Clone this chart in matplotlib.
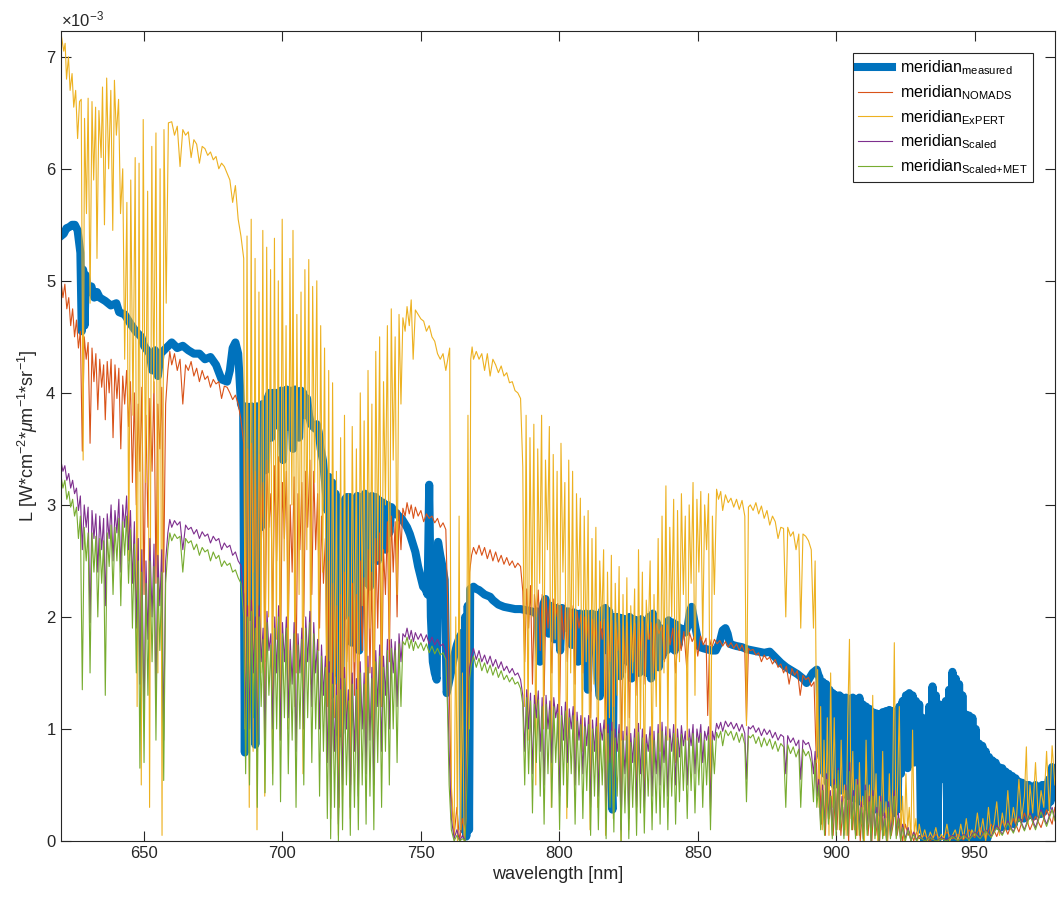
import numpy as np
import matplotlib
matplotlib.use("Agg")
import matplotlib.pyplot as plt
from matplotlib.ticker import MultipleLocator, ScalarFormatter

plt.rcParams['font.family'] = ['Liberation Sans', 'DejaVu Sans']
plt.rcParams['mathtext.fontset'] = 'custom'
plt.rcParams['mathtext.rm'] = 'Liberation Sans'
plt.rcParams['mathtext.it'] = 'Liberation Sans:italic'

# radiance values, units of 1e-3 W cm^-2 um^-1 sr^-1
# (wavelength nm, value)
measured = [
    (620, 5.40), (621, 5.42), (622, 5.47), (623, 5.48), (624, 5.50), (625, 5.50), (626, 5.45),
    (627, 5.25), (627.5, 4.55), (628, 5.10), (628.5, 4.60), (629, 5.05), (630, 4.90), (631, 4.95),
    (632, 4.85), (633, 4.90), (634, 4.85), (636, 4.82), (638, 4.78), (640, 4.80), (641, 4.72),
    (643, 4.70), (645, 4.62), (647, 4.55), (649, 4.50), (650, 4.42), (652, 4.35), (653, 4.20),
    (654, 4.38), (655, 4.15), (656, 4.35), (658, 4.40), (660, 4.45), (662, 4.40), (664, 4.42),
    (666, 4.38), (668, 4.35), (670, 4.35), (672, 4.30), (674, 4.32), (676, 4.25), (678, 4.12),
    (680, 4.10), (681, 4.20), (682, 4.40), (683, 4.45), (684, 4.35), (685, 3.90), (685.8, 3.85),
    (686.4, 0.79), (687, 3.88), (687.6, 3.85), (688.2, 2.00), (688.8, 3.88), (689.4, 3.86),
    (690.2, 0.86), (690.8, 3.88), (691.5, 3.85), (692.2, 2.80), (692.8, 3.90), (693.4, 3.85),
    (694, 3.31), (694.6, 3.95), (695.4, 4.00), (696, 3.60), (696.6, 4.00), (697.3, 3.97),
    (698, 4.00), (698.8, 3.70), (699.5, 4.02), (700.2, 3.40), (700.8, 4.00), (701.5, 4.03),
    (702.2, 3.70), (702.9, 4.02), (703.8, 3.50), (704.5, 4.03), (705.3, 4.00), (706, 3.60),
    (706.7, 4.02), (707.5, 4.00), (708.2, 3.80), (708.9, 3.95), (709.6, 3.80), (710.3, 3.72),
    (711, 3.70), (711.8, 3.68), (712.4, 3.72), (713.1, 3.65), (713.8, 3.50), (714.6, 3.40),
    (715.4, 3.20), (716.2, 2.95), (716.8, 3.25), (717.4, 1.30), (718, 3.20), (718.6, 2.00),
    (719.2, 3.10), (719.8, 1.50), (720.4, 3.00), (720.8, 0.96), (721.4, 3.00), (722, 2.00),
    (722.6, 3.05), (723.2, 3.07), (723.8, 2.40), (724.4, 3.07), (725, 1.77), (725.6, 3.05),
    (726.3, 2.20), (727, 3.08), (727.7, 1.70), (728.4, 3.07), (729.1, 2.60), (729.8, 3.10),
    (730.5, 2.30), (731.2, 3.05), (731.6, 2.27), (732.3, 3.08), (733, 2.70), (733.7, 3.07),
    (734.4, 2.50), (735.1, 3.04), (735.8, 2.80), (736.5, 3.02), (737.2, 2.60), (737.9, 3.00),
    (738.6, 2.75), (739.4, 2.98), (740.2, 2.95), (741, 2.93), (742, 2.90), (743, 2.88),
    (744, 2.84), (745, 2.80), (746, 2.74), (747, 2.66), (748, 2.58), (749, 2.45), (750, 2.35),
    (750.8, 2.27), (751.6, 2.25), (752.4, 2.20), (753, 3.18), (753.6, 2.00), (754.3, 1.60),
    (755, 1.50), (755.7, 1.44), (756.2, 2.67), (757, 2.55), (757.8, 2.45), (758.6, 2.33),
    (759.3, 1.32), (760, 1.40), (761, 1.52), (762, 1.65), (763, 1.75), (764, 1.82), (765, 1.86),
    (765.5, 0.10), (766, 2.00), (766.4, 0.04), (766.9, 2.10), (767.4, 0.10), (767.8, 2.25),
    (769, 2.27), (770, 2.25), (771, 2.24), (772, 2.22), (773, 2.20), (774, 2.19), (775, 2.18),
    (776, 2.15), (777, 2.13), (778, 2.11), (779, 2.10), (780, 2.09), (782, 2.08), (784, 2.07),
    (786, 2.07), (788, 2.06), (790, 2.05), (791, 2.04), (792, 2.05), (793, 1.60), (793.6, 2.00),
    (794.3, 2.12), (795, 2.16), (795.6, 2.10), (796.2, 1.85), (796.8, 2.10), (797.5, 2.05),
    (798.2, 1.80), (798.9, 2.08), (799.6, 2.06), (800.3, 1.70), (801, 2.08), (801.7, 2.04),
    (802.4, 1.90), (803.1, 2.05), (803.8, 2.03), (804.5, 1.75), (805.2, 2.04), (806, 2.03),
    (806.8, 1.60), (807.5, 2.03), (808.2, 2.02), (808.9, 1.60), (809.6, 2.03), (810.3, 1.35),
    (811, 2.02), (811.7, 2.03), (812.4, 1.80), (813.1, 2.02), (813.8, 1.50), (814.6, 1.29),
    (815.3, 2.05), (816, 2.07), (816.6, 2.08), (817.3, 1.70), (818, 2.05), (818.6, 0.70),
    (819.2, 0.28), (819.8, 2.00), (820.5, 1.50), (821.2, 2.00), (821.9, 1.47), (822.6, 1.99),
    (823.3, 1.65), (824, 1.98), (824.7, 1.60), (825.4, 2.00), (826.1, 1.45), (826.8, 1.98),
    (827.5, 1.70), (828.2, 1.97), (828.9, 1.50), (829.6, 1.98), (830.3, 1.75), (831, 1.96),
    (831.6, 1.50), (832.4, 2.00), (833.1, 1.45), (833.8, 2.03), (834.5, 1.60), (835.2, 1.95),
    (835.9, 1.55), (836.6, 1.90), (837.3, 1.65), (838, 1.88), (838.8, 1.70), (839.5, 1.97),
    (840.2, 1.72), (841, 1.95), (841.7, 1.70), (842.4, 1.93), (843.1, 1.75), (843.8, 1.90),
    (844.6, 1.88), (845.5, 1.86), (846.4, 1.92), (847.2, 2.05), (847.8, 2.09), (848.5, 2.00),
    (849.2, 1.90), (850, 1.80), (850.8, 1.73), (852, 1.72), (853.5, 1.71), (855, 1.70),
    (856.5, 1.70), (858, 1.78), (859, 1.88), (860, 1.90), (860.8, 1.85), (861.6, 1.76),
    (862.6, 1.75), (864, 1.74), (866, 1.73), (868, 1.71), (870, 1.70), (872, 1.69), (874, 1.68),
    (876, 1.69), (878, 1.64), (880, 1.59), (882, 1.55), (884, 1.52), (886, 1.49), (888, 1.45),
    (889.3, 1.41), (890.5, 1.46), (891.5, 1.50), (893, 1.53), (893.6, 1.48),
    (894, 1.46), (894.6, 0.75), (895.2, 1.42), (895.8, 0.60), (896.4, 1.40), (897, 0.52),
    (897.6, 1.35), (898.2, 0.70), (898.8, 1.32), (899.4, 0.50), (900, 1.30), (900.6, 0.55),
    (901.2, 1.30), (901.8, 0.45), (902.4, 1.28), (903, 0.50), (903.6, 1.28), (904.2, 0.40),
    (904.8, 1.27), (905.4, 0.45), (906, 1.28), (906.6, 0.38), (907.2, 1.26), (907.8, 0.42),
    (908.4, 1.28), (909, 0.35), (909.6, 1.22), (910.2, 0.40), (910.8, 1.20), (911.4, 0.30),
    (912, 1.18), (912.6, 0.35), (913.2, 1.15), (913.8, 0.28), (914.4, 1.14), (915, 0.30),
    (915.6, 1.13), (916.2, 0.25), (916.8, 1.15), (917.4, 0.28), (918, 1.16), (918.6, 0.24),
    (919.2, 1.17), (919.8, 0.26), (920.4, 1.16), (921, 0.25), (921.6, 1.14), (922.2, 0.28),
    (922.8, 1.20), (923.4, 0.60), (924, 1.25), (924.6, 0.70), (925.2, 1.30), (925.8, 0.65),
    (926.4, 1.32), (927, 0.75), (927.6, 1.30), (928.2, 0.70), (928.8, 1.25), (929.4, 0.80),
    (930, 1.22), (930.6, 0.10), (931.2, 1.10), (931.8, 0.00), (932.4, 0.95), (933, 0.00),
    (933.6, 1.20), (934.2, 0.02), (934.8, 1.38), (935.4, 0.00), (936, 1.30), (936.6, 0.02),
    (937.2, 1.22), (937.8, 0.55), (938.4, 1.20), (939, 0.55), (939.6, 1.25), (940.2, 0.00),
    (940.8, 1.35), (941.4, 0.02), (942, 1.51), (942.6, 0.00), (943.2, 1.45), (943.8, 0.02),
    (944.4, 1.40), (945, 0.00), (945.6, 1.30), (946.2, 0.02), (946.8, 1.13), (947.4, 0.00),
    (948, 1.12), (948.6, 0.05), (949.2, 1.10), (949.8, 0.02), (950.4, 1.00), (951, 0.05),
    (951.6, 0.87), (952.2, 0.00), (952.8, 0.85), (953.4, 0.08), (954, 0.80), (954.6, 0.02),
    (955.2, 0.75), (955.8, 0.10), (956.4, 0.72), (957, 0.13), (957.6, 0.70), (958.2, 0.15),
    (958.8, 0.66), (959.4, 0.12), (960, 0.65), (960.6, 0.15), (961.2, 0.62), (961.8, 0.13),
    (962.4, 0.60), (963, 0.18), (963.6, 0.58), (964.2, 0.15), (964.8, 0.56), (965.4, 0.20),
    (966, 0.53), (966.6, 0.22), (967.2, 0.52), (967.8, 0.20), (968.4, 0.50), (969, 0.22),
    (969.6, 0.50), (970.2, 0.24), (970.8, 0.48), (971.4, 0.22), (972, 0.50), (972.6, 0.25),
    (973.2, 0.48), (973.8, 0.24), (974.4, 0.50), (975, 0.26), (975.6, 0.50), (976.2, 0.30),
    (976.8, 0.55), (977.4, 0.35), (978, 0.66), (978.6, 0.40), (979, 0.62),
]

nomads = [
    (620, 5.00), (620.7, 4.85), (621.4, 4.97), (622.1, 4.75), (622.8, 4.85), (623.5, 4.60),
    (624.2, 4.75), (624.9, 4.50), (625.6, 4.65), (626.3, 4.40), (627, 4.55), (627.7, 3.48),
    (628.4, 4.50), (629.1, 4.30), (629.8, 4.45), (630.5, 3.55), (631.2, 4.40), (631.9, 4.10),
    (632.6, 4.35), (633.3, 3.85), (634, 4.30), (634.7, 4.05), (635.4, 4.25), (636, 3.76),
    (636.7, 4.28), (637.4, 4.00), (638.1, 4.30), (638.8, 3.60), (639.5, 4.25), (640.2, 3.95),
    (640.9, 4.22), (641.6, 3.50), (642.3, 4.15), (643, 3.90), (643.7, 4.20), (644.4, 3.70),
    (645.1, 4.10), (645.8, 3.20), (646.5, 4.00), (647.2, 3.00), (647.9, 3.90), (648.5, 3.30),
    (649.2, 4.05), (650, 2.20), (650.7, 3.80), (651.4, 2.80), (652.1, 3.95), (652.9, 3.30),
    (653.6, 4.10), (654.3, 2.30), (655, 3.90), (655.7, 3.50), (656.4, 4.05), (657.1, 2.40),
    (657.8, 3.90), (658.6, 4.20), (659.3, 4.37), (660, 4.25), (661, 4.35), (662, 4.20),
    (663, 4.30), (664, 3.90), (665, 4.25), (666, 4.20), (667, 4.28), (668, 4.15), (669, 4.22),
    (670, 4.10), (671, 4.20), (672, 4.12), (673, 4.15), (674, 4.05), (675, 4.12), (676, 4.08),
    (677, 4.10), (678, 3.95), (679, 4.06), (680, 4.05), (681, 4.00), (682, 3.94), (683, 3.98),
    (684, 3.90), (685, 3.76), (686, 3.55), (686.7, 1.50),
    (687.4, 3.50), (688.1, 2.00), (688.8, 3.55), (689.5, 2.40), (690.2, 3.30), (690.9, 1.80),
    (691.6, 3.45), (692.3, 2.60), (693, 3.20), (693.7, 1.60), (694.4, 3.40), (695.1, 2.80),
    (695.8, 3.10), (696.5, 2.00), (697.2, 3.35), (697.9, 2.50), (698.6, 3.43), (699.3, 1.70),
    (700, 3.20), (700.7, 2.70), (701.4, 3.30), (702.1, 1.90), (702.8, 3.00), (703.5, 2.40),
    (704.2, 3.25), (704.9, 1.50), (705.6, 3.10), (706.3, 2.60), (707, 3.20), (707.7, 2.00),
    (708.4, 3.30), (709.1, 2.80), (709.9, 3.40), (710.6, 2.20), (711.3, 3.30), (712, 2.60),
    (712.7, 3.10), (713.4, 1.90), (714.1, 2.90), (714.8, 2.30), (715.5, 2.70), (716.2, 1.20),
    (716.9, 2.50), (717.6, 0.60), (718.3, 2.30), (719, 1.40), (719.7, 2.10), (720.4, 0.30),
    (721.1, 2.20), (721.8, 0.90), (722.5, 2.40), (723.2, 1.60), (723.9, 2.00), (724.6, 0.50),
    (725.3, 2.30), (726, 1.30), (726.7, 2.20), (727.4, 0.80), (728.1, 2.50), (728.8, 1.70),
    (729.5, 2.35), (730.2, 1.00), (730.9, 2.60), (731.6, 1.50), (732.3, 2.40), (733, 0.90),
    (733.7, 2.70), (734.4, 1.90), (735.1, 2.75), (735.8, 1.20), (736.5, 2.60), (737.2, 2.20),
    (737.9, 2.85), (738.6, 1.60), (739.3, 2.90), (740, 2.40), (740.7, 2.85), (741.4, 2.00),
    (742.1, 2.95), (742.8, 2.60), (743.5, 2.97), (744.3, 2.90), (745, 3.02), (745.8, 2.92),
    (746.5, 3.00), (747.3, 2.88), (748, 2.98), (749, 2.90), (750, 2.95), (751, 2.85),
    (752, 2.92), (753, 2.88), (754, 2.90), (755, 2.84), (756, 2.88), (757, 2.80), (758, 2.84),
    (759, 2.78), (759.6, 2.20), (760.2, 1.40), (761, 0.40), (762, 0.05), (763, 0.30),
    (764, 0.00), (765, 0.20), (766, 0.05), (767, 1.60), (767.6, 2.40), (768.3, 2.55),
    (769, 2.62), (770, 2.56), (771, 2.64), (772, 2.55), (773, 2.62), (774, 2.52), (775, 2.60),
    (776, 2.50), (777, 2.58), (778, 2.49), (779, 2.55), (780, 2.47), (781, 2.53), (782, 2.46),
    (783, 2.50), (784, 2.44), (785, 2.48), (786, 2.45), (786.8, 2.23), (787.5, 1.60),
    (788.2, 2.25), (788.9, 1.90), (789.6, 2.28), (790.3, 1.40), (791, 2.20), (791.7, 2.00),
    (792.4, 2.24), (793.1, 1.70), (793.8, 2.20), (794.5, 1.30), (795.2, 2.18), (795.9, 1.90),
    (796.6, 2.15), (797.3, 1.50), (798, 2.16), (798.7, 2.00), (799.4, 2.12), (800.1, 1.20),
    (800.8, 2.10), (801.5, 1.80), (802.2, 2.13), (802.9, 1.60), (803.6, 2.08), (804.3, 1.90),
    (805, 2.10), (805.7, 1.40), (806.4, 2.05), (807.1, 1.90), (807.8, 2.02), (808.5, 1.50),
    (809.2, 2.00), (809.9, 1.80), (810.6, 2.02), (811.3, 1.10), (812, 1.98), (812.7, 1.70),
    (813.4, 2.00), (814.1, 1.30), (814.8, 1.96), (815.5, 1.80), (816.2, 1.98), (816.9, 1.00),
    (817.6, 1.95), (818.3, 1.60), (819, 1.97), (819.7, 1.20), (820.4, 1.95), (821.1, 1.70),
    (821.8, 1.94), (822.5, 0.90), (823.2, 1.92), (823.9, 1.50), (824.6, 1.95), (825.3, 1.10),
    (826, 1.92), (826.7, 1.60), (827.4, 1.94), (828.1, 1.30), (828.8, 1.95), (829.5, 1.70),
    (830.2, 1.96), (831, 1.40), (831.7, 1.93), (832.5, 1.80), (833.2, 1.95), (834, 1.50),
    (835, 1.94), (836, 1.85), (837, 1.92), (838, 1.60), (839, 1.93), (840, 1.75), (841, 1.90),
    (842, 1.50), (843, 1.88), (844, 1.70), (845, 1.87), (846, 1.55), (847, 1.86), (848, 1.78),
    (849, 1.84), (850, 1.65), (851, 1.83), (852, 1.75), (853, 1.81), (853.6, 1.12), (854.3, 1.80),
    (855, 1.72), (856, 1.80), (857, 1.76), (858, 1.79), (859, 1.74), (860, 1.78), (861, 1.73),
    (862, 1.77), (863, 1.72), (864, 1.76), (865, 1.70), (866, 1.75), (867, 1.68), (867.6, 1.07),
    (868.3, 1.72), (869, 1.70), (870, 1.71), (871, 1.66), (872, 1.68), (873, 1.60), (874, 1.66),
    (875, 1.62), (876, 1.64), (877, 1.58), (878, 1.62), (879, 1.55), (880, 1.58), (881, 1.50),
    (882, 1.56), (883, 1.40), (884, 1.54), (885, 1.48), (886, 1.52), (887, 1.30), (888, 1.48),
    (889, 1.44), (890, 1.46), (891, 1.38), (892, 1.42), (892.6, 0.90), (893.3, 0.40),
    (894, 0.60), (894.7, 0.15), (895.4, 0.45), (896.1, 0.05), (896.8, 0.55), (897.5, 0.20),
    (898.2, 0.40), (898.9, 0.05), (899.6, 0.35), (900.3, 0.10), (901, 0.50), (901.7, 0.05),
    (902.4, 0.30), (903.1, 0.10), (903.8, 0.45), (904.5, 0.00), (905.2, 0.60), (905.9, 0.10),
    (906.6, 0.30), (907.3, 0.05), (908, 0.40), (908.7, 0.00), (909.4, 0.25), (910.1, 0.10),
    (910.8, 0.45), (911.5, 0.05), (912.2, 0.30), (912.9, 0.00), (913.6, 0.35), (914.3, 0.05),
    (915, 0.20), (915.7, 0.00), (916.4, 0.30), (917.1, 0.05), (917.8, 0.15), (918.5, 0.00),
    (919.2, 0.25), (919.9, 0.05), (920.6, 0.15), (921.3, 0.40), (922, 0.05), (923, 0.20),
    (924, 0.00), (925, 0.15), (926, 0.05), (927, 0.10), (928, 0.00), (929, 0.08), (930, 0.02),
    (932, 0.05), (934, 0.00), (936, 0.06), (938, 0.01), (940, 0.08), (942, 0.02), (944, 0.06),
    (946, 0.01), (948, 0.10), (950, 0.03), (952, 0.12), (954, 0.02), (956, 0.15), (958, 0.04),
    (960, 0.18), (962, 0.06), (964, 0.20), (966, 0.08), (968, 0.25), (970, 0.10), (972, 0.22),
    (974, 0.12), (976, 0.28), (978, 0.15), (979, 0.30),
]

expert = [
    (620, 7.21), (621, 7.05), (621.5, 7.12), (622, 6.80), (622.7, 7.00), (623.3, 6.70),
    (624, 6.85), (624.6, 6.55), (625.3, 6.70), (626, 6.27), (626.7, 6.60), (627.3, 6.62),
    (628, 3.40), (628.5, 6.45), (629.2, 5.60), (629.8, 6.63), (630.5, 4.80), (631.2, 6.60),
    (631.8, 5.90), (632.5, 6.55), (633, 5.20), (633.7, 6.52), (634.5, 6.10), (635, 6.73),
    (635.7, 5.50), (636.5, 6.81), (637.2, 6.00), (638, 6.70), (638.7, 5.45), (639.3, 6.79),
    (640, 6.30), (640.8, 6.62), (641.5, 5.60), (642.3, 6.00), (643, 4.30), (643.8, 5.70),
    (644.5, 2.50), (645.2, 5.90), (646, 3.80), (646.8, 6.10), (647.5, 1.20), (648.2, 6.05),
    (649, 0.50), (649.7, 6.44), (650.5, 3.20), (651.3, 5.80), (652, 0.30), (652.8, 6.20),
    (653.5, 4.00), (654.3, 6.32), (655, 1.50), (655.8, 6.00), (656.5, 0.05), (657.2, 6.35),
    (658, 4.80), (658.8, 6.41), (660, 6.42), (661, 6.30), (662, 6.38), (663, 6.02), (664, 6.35),
    (665, 6.30), (666, 6.33), (667, 6.10), (668, 6.26), (669, 6.22), (670, 6.05), (671, 6.20),
    (672, 6.18), (673, 6.12), (674, 6.15), (675, 6.08), (676, 6.11), (677, 6.00), (678, 6.05),
    (679, 6.02), (680, 5.96), (681, 5.90), (682, 5.70), (683, 5.85), (684, 5.55), (685, 5.40),
    (686, 5.20), (686.5, 1.00), (687.2, 5.40), (688, 0.30), (688.7, 5.55), (689.4, 0.80),
    (690.1, 5.20), (690.8, 0.10), (691.5, 4.90), (692.2, 1.50), (692.9, 5.45), (693.6, 0.40),
    (694.3, 5.30), (695, 2.00), (695.7, 5.10), (696.4, 0.60), (697.1, 5.38), (697.8, 1.80),
    (698.5, 5.00), (699.2, 0.90), (699.9, 5.55), (700.6, 2.50), (701.3, 4.60), (702, 1.00),
    (702.7, 5.20), (703.4, 3.00), (703.8, 5.45), (704.5, 1.20), (705.2, 4.70), (706, 2.20),
    (706.7, 4.90), (707.4, 0.60), (708.1, 5.10), (708.8, 2.60), (709.5, 5.19), (710.2, 1.40),
    (710.9, 4.95), (711.6, 3.20), (712.4, 5.00), (713.1, 1.70), (713.8, 4.60), (714.5, 2.40),
    (715.2, 4.40), (716, 0.90), (716.7, 4.20), (717.4, 0.20), (718.1, 4.09), (718.8, 1.10),
    (719.5, 3.30), (720.2, 0.05), (721, 3.60), (721.7, 0.40), (722.4, 3.80), (723.1, 1.00),
    (723.8, 3.10), (724.5, 0.20), (725.2, 3.70), (726, 1.60), (726.7, 3.50), (727.4, 0.50),
    (728.1, 4.00), (728.8, 2.10), (729.5, 3.75), (730.2, 0.80), (730.9, 4.20), (731.6, 1.90),
    (732.3, 3.90), (733, 0.70), (733.7, 4.37), (734.4, 2.50), (735.1, 4.50), (735.8, 1.20),
    (736.5, 4.10), (737.2, 3.00), (737.9, 4.60), (738.6, 1.80), (739.3, 4.75), (740, 3.40),
    (740.7, 4.50), (741.4, 2.20), (742.1, 4.70), (742.8, 3.90), (743.5, 4.67), (744.3, 4.55),
    (745, 4.77), (745.8, 4.60), (746.5, 4.83), (747.2, 4.30), (748, 4.74), (749, 4.70),
    (750, 4.66), (751, 4.64), (752, 4.55), (753, 4.60), (754, 4.50), (755, 4.46), (756, 4.35),
    (757, 4.30), (758, 4.35), (759, 4.20), (760.4, 4.40), (761, 0.50), (762, 0.05), (762.6, 2.00),
    (763.2, 0.00), (763.8, 2.90), (764.4, 0.10), (765, 1.50), (765.6, 0.00), (766.3, 0.20),
    (767, 3.80), (767.5, 1.00), (768, 4.30), (768.5, 4.41), (769, 4.30), (770, 4.37),
    (771, 4.30), (772, 4.35), (773, 4.20), (774, 4.35), (775, 4.15), (776, 4.30), (777, 4.25),
    (778, 4.18), (779, 4.24), (780, 4.15), (781, 4.18), (782, 4.09), (783, 4.10), (784, 4.02),
    (785, 4.00), (786, 3.95), (786.8, 3.34), (787.4, 1.20), (788, 3.80), (788.7, 0.90),
    (789.4, 3.60), (790.1, 2.00), (790.8, 3.72), (791.5, 0.50), (792.2, 3.50), (792.9, 2.30),
    (793.6, 3.80), (794.3, 1.00), (795, 3.40), (795.7, 2.60), (796.4, 3.70), (797.1, 0.30),
    (797.8, 3.45), (798.5, 1.80), (799.2, 3.30), (799.9, 0.60), (800.6, 3.55), (801.3, 2.40),
    (802, 3.20), (802.7, 0.20), (803.4, 3.40), (804.1, 1.50), (804.8, 3.30), (805.5, 0.40),
    (806.2, 3.10), (806.9, 2.10), (807.6, 3.06), (808.3, 0.80), (809, 2.90), (809.7, 1.60),
    (810.4, 2.95), (811.1, 0.10), (811.8, 2.70), (812.5, 1.40), (813.2, 2.80), (813.9, 0.30),
    (814.6, 2.50), (815.3, 1.90), (816, 2.60), (816.7, 0.05), (817.4, 2.40), (818.1, 1.10),
    (818.8, 2.55), (819.5, 0.20), (820.2, 2.30), (820.9, 1.30), (821.6, 2.45), (822.3, 0.00),
    (823, 2.20), (823.7, 0.90), (824.4, 2.35), (825.1, 0.10), (825.8, 2.10), (826.5, 1.50),
    (827.2, 2.25), (827.9, 0.30), (828.6, 2.60), (829.3, 1.00), (830, 2.40), (830.7, 0.40),
    (831.4, 2.15), (832.1, 1.80), (832.8, 2.50), (833.5, 0.60), (834.2, 2.20), (835, 1.20),
    (835.7, 2.70), (836.4, 0.80), (837.1, 2.90), (837.8, 1.50), (838.5, 3.17), (839.2, 0.90),
    (839.9, 2.80), (840.6, 2.00), (841.3, 3.05), (842, 0.70), (842.7, 2.95), (843.4, 1.60),
    (844.1, 3.10), (844.8, 2.20), (845.5, 2.90), (846.2, 0.90), (846.9, 3.00), (847.6, 2.30),
    (848.3, 3.20), (849, 1.30), (849.7, 3.05), (850.4, 2.40), (851.1, 3.12), (851.8, 1.80),
    (852.5, 3.00), (853.2, 2.60), (853.9, 3.10), (854.6, 0.23), (855.3, 2.90), (856, 2.20),
    (856.8, 3.14), (857.5, 3.05), (858.3, 3.12), (859, 2.95), (860, 3.09), (861, 3.02),
    (862, 3.06), (863, 2.98), (864, 3.05), (865, 2.96), (866, 3.04), (867, 2.90), (867.6, 1.03),
    (868.3, 2.98), (869, 3.00), (870, 2.95), (871, 3.02), (872, 2.92), (873, 2.99), (874, 2.88),
    (875, 2.95), (876, 2.82), (877, 2.90), (878, 2.85), (879, 2.70), (880, 2.80), (881, 2.79),
    (881.8, 2.00), (882.5, 2.80), (883.5, 2.72), (884.5, 2.76), (885.5, 2.60), (886.5, 2.74),
    (887.2, 1.90), (888, 2.74), (889, 2.72), (890, 2.68), (891, 2.60), (891.8, 1.90),
    (892.4, 2.50), (893, 0.70), (893.3, 1.53), (893.8, 0.30), (894.4, 1.20), (895, 0.10),
    (895.6, 0.90), (896.2, 0.20), (896.8, 1.10), (897.4, 0.05), (898, 1.50), (898.6, 0.30),
    (899.3, 1.10), (900, 0.20), (900.6, 0.60), (901.2, 0.10), (901.8, 0.90), (902.4, 0.30),
    (903, 0.50), (903.6, 0.05), (904.2, 1.10), (904.8, 1.80), (905.4, 0.20), (906, 0.80),
    (906.6, 0.10), (907.2, 0.55), (907.8, 0.05), (908.4, 0.70), (909, 0.15), (909.6, 0.40),
    (910.2, 0.00), (910.8, 0.90), (911.4, 0.20), (912, 0.50), (912.6, 0.05), (913.2, 1.30),
    (913.8, 0.20), (914.4, 0.60), (915, 0.00), (915.6, 0.40), (916.2, 0.10), (916.8, 0.80),
    (917.4, 0.05), (918, 0.35), (918.6, 0.00), (919.2, 0.60), (919.8, 0.10), (920.4, 0.45),
    (921, 1.77), (921.6, 0.10), (922.2, 0.50), (922.8, 1.20), (923.4, 0.05), (924, 0.40),
    (924.6, 0.00), (925.2, 0.60), (925.8, 0.10), (926.4, 0.30), (927, 0.00), (927.6, 0.99),
    (928.2, 0.05), (928.8, 0.20), (929.4, 0.00), (930, 0.15), (931, 0.02), (932, 0.10),
    (933, 0.00), (934, 0.08), (935, 0.02), (936, 0.12), (937, 0.00), (938, 0.06), (939, 0.02),
    (940, 0.15), (941, 0.00), (942, 0.05), (943, 0.10), (944, 0.00), (945, 0.15), (946, 0.02),
    (947, 0.20), (948, 0.00), (949, 0.10), (950, 0.05), (951, 0.25), (952, 0.05), (953, 0.20),
    (954, 0.00), (955, 0.30), (956, 0.05), (957, 0.15), (958, 0.35), (959, 0.05), (960, 0.25),
    (961, 0.10), (962, 0.45), (963, 0.10), (964, 0.30), (965, 0.15), (966, 0.55), (967, 0.20),
    (968, 0.40), (968.7, 0.84), (969.3, 0.15), (970, 0.50), (971, 0.25), (972, 0.70),
    (973, 0.20), (974, 0.45), (975, 0.30), (976, 0.80), (977, 0.25), (978, 0.85), (979, 0.50),
]

scaled = [
    (620, 3.39), (620.7, 3.30), (621.4, 3.35), (622.1, 3.22), (622.8, 3.28), (623.5, 3.15),
    (624.2, 3.22), (624.9, 3.10), (625.6, 3.15), (626.3, 2.95), (627, 3.08), (627.7, 2.60),
    (628.4, 3.00), (629.1, 2.80), (629.8, 2.98), (630.5, 1.95), (631.2, 2.95), (631.9, 2.70),
    (632.6, 2.92), (633.3, 2.40), (634, 2.90), (634.7, 2.60), (635.4, 2.88), (636, 2.10),
    (636.7, 2.92), (637.4, 2.70), (638.1, 3.00), (638.8, 2.50), (639.5, 2.95), (640.2, 2.75),
    (640.9, 3.05), (641.6, 2.40), (642.3, 3.00), (643, 2.80), (643.7, 3.08), (644.4, 2.60),
    (645.1, 2.95), (645.8, 2.30), (646.5, 2.85), (647.2, 1.90), (647.9, 2.70), (648.5, 1.40),
    (649.2, 2.60), (650, 1.10), (650.7, 2.50), (651.4, 1.80), (652.1, 2.70), (652.9, 2.00),
    (653.6, 2.65), (654.3, 1.30), (655, 2.55), (655.7, 2.10), (656.4, 2.60), (657.1, 0.90),
    (657.8, 2.50), (658.6, 2.75), (659.3, 2.87), (660, 2.80), (661, 2.86), (662, 2.82),
    (663, 2.85), (664, 2.60), (665, 2.82), (666, 2.78), (667, 2.80), (668, 2.74), (669, 2.78),
    (670, 2.70), (671, 2.76), (672, 2.72), (673, 2.74), (674, 2.66), (675, 2.72), (676, 2.68),
    (677, 2.70), (678, 2.60), (679, 2.66), (680, 2.62), (681, 2.64), (682, 2.55), (683, 2.58),
    (684, 2.50), (685, 2.46), (686, 2.20), (686.7, 1.00),
    (687.4, 2.10), (688.1, 1.00), (688.8, 2.15), (689.5, 1.50), (690.2, 2.00), (690.9, 0.80),
    (691.6, 2.10), (692.3, 1.60), (693, 1.90), (693.7, 0.90), (694.4, 2.05), (695.1, 1.70),
    (695.8, 1.85), (696.5, 1.00), (697.2, 2.00), (697.9, 1.50), (698.6, 2.10), (699.3, 0.90),
    (700, 1.95), (700.7, 1.60), (701.4, 2.00), (702.1, 1.10), (702.8, 1.80), (703.5, 1.40),
    (704.2, 1.95), (704.9, 0.80), (705.6, 1.85), (706.3, 1.50), (707, 1.90), (707.7, 1.00),
    (708.4, 2.00), (709.1, 1.60), (709.9, 2.05), (710.6, 1.20), (711.3, 1.95), (712, 1.50),
    (712.7, 1.80), (713.4, 1.00), (714.1, 1.75), (714.8, 1.30), (715.5, 1.65), (716.2, 0.70),
    (716.9, 1.60), (717.4, 0.30), (718.1, 1.50), (718.8, 0.80), (719.5, 1.40), (720.2, 0.15),
    (721, 1.45), (721.7, 0.50), (722.4, 1.55), (723.1, 1.00), (723.8, 1.35), (724.5, 0.30),
    (725.2, 1.50), (726, 0.80), (726.7, 1.45), (727.4, 0.40), (728.1, 1.60), (728.8, 1.00),
    (729.5, 1.50), (730.2, 0.60), (730.9, 1.65), (731.6, 0.90), (732.3, 1.55), (733, 0.50),
    (733.7, 1.70), (734.4, 1.20), (735.1, 1.75), (735.8, 0.80), (736.5, 1.65), (737.2, 1.30),
    (737.9, 1.80), (738.6, 1.00), (739.3, 1.80), (740, 1.50), (740.7, 1.78), (741.4, 1.20),
    (742.1, 1.85), (742.8, 1.60), (743.5, 1.85), (744.3, 1.82), (745, 1.90), (745.8, 1.80),
    (746.5, 1.88), (747.3, 1.78), (748, 1.86), (749, 1.80), (750, 1.85), (751, 1.78),
    (752, 1.84), (753, 1.76), (754, 1.82), (755, 1.75), (756, 1.80), (757, 1.74), (758, 1.76),
    (759, 1.70), (759.6, 1.40), (760.2, 0.80), (761, 0.20), (762, 0.02), (763, 0.10),
    (764, 0.00), (765, 0.05), (766, 0.00), (767, 1.00), (767.6, 1.55), (768.3, 1.65),
    (769, 1.72), (770, 1.62), (771, 1.70), (772, 1.60), (773, 1.66), (774, 1.58), (775, 1.65),
    (776, 1.56), (777, 1.62), (778, 1.54), (779, 1.60), (780, 1.52), (781, 1.56), (782, 1.50),
    (783, 1.54), (784, 1.48), (785, 1.50), (786, 1.44), (786.8, 1.30), (787.5, 0.80),
    (788.2, 1.35), (788.9, 1.00), (789.6, 1.32), (790.3, 0.60), (791, 1.30), (791.7, 1.10),
    (792.4, 1.34), (793.1, 0.80), (793.8, 1.28), (794.5, 0.50), (795.2, 1.30), (795.9, 1.00),
    (796.6, 1.25), (797.3, 0.70), (798, 1.28), (798.7, 1.10), (799.4, 1.22), (800.1, 0.40),
    (800.8, 1.20), (801.5, 0.90), (802.2, 1.24), (802.9, 0.70), (803.6, 1.18), (804.3, 1.00),
    (805, 1.20), (805.7, 0.50), (806.4, 1.15), (807.1, 0.90), (807.8, 1.12), (808.5, 0.60),
    (809.2, 1.10), (809.9, 0.85), (810.6, 1.12), (811.3, 0.30), (812, 1.08), (812.7, 0.80),
    (813.4, 1.10), (814.1, 0.40), (814.8, 1.05), (815.5, 0.90), (816.2, 1.08), (816.9, 0.20),
    (817.6, 1.04), (818.3, 0.70), (819, 1.06), (819.7, 0.35), (820.2, 1.00), (820.9, 0.80),
    (821.6, 1.04), (822.3, 0.10), (823, 0.98), (823.7, 0.60), (824.4, 1.02), (825.1, 0.20),
    (825.8, 0.96), (826.5, 0.70), (827.2, 1.00), (827.9, 0.30), (828.6, 1.05), (829.3, 0.60),
    (830, 1.00), (830.7, 0.30), (831.4, 0.95), (832.1, 0.80), (832.8, 1.02), (833.5, 0.40),
    (834.2, 0.98), (835, 0.60), (835.7, 1.04), (836.4, 0.50), (837.1, 1.06), (837.8, 0.70),
    (838.5, 1.02), (839.2, 0.40), (839.9, 1.00), (840.6, 0.80), (841.3, 1.04), (842, 0.50),
    (842.7, 1.00), (843.4, 0.75), (844.1, 1.03), (844.8, 0.85), (845.5, 0.98), (846.2, 0.50),
    (846.9, 1.00), (847.6, 0.85), (848.3, 1.04), (849, 0.60), (849.7, 1.00), (850.4, 0.88),
    (851.1, 1.04), (851.8, 0.70), (852.5, 0.98), (853.2, 0.90), (853.9, 1.02), (854.6, 0.28),
    (855.3, 0.98), (856, 0.90), (856.8, 1.05), (857.5, 1.00), (858.3, 1.06), (859, 0.98),
    (860, 1.07), (861, 1.02), (862, 1.06), (863, 1.00), (864, 1.05), (865, 0.98), (866, 1.04),
    (867, 0.96), (867.6, 0.55), (868.3, 1.02), (869, 1.00), (870, 1.03), (871, 0.97),
    (872, 1.01), (873, 0.94), (874, 1.00), (875, 0.95), (876, 0.99), (877, 0.92), (878, 0.97),
    (879, 0.90), (880, 0.95), (881, 0.93), (881.8, 0.60), (882.5, 0.94), (883.5, 0.88),
    (884.5, 0.92), (885.5, 0.85), (886.5, 0.90), (887.2, 0.55), (888, 0.90), (889, 0.86),
    (890, 0.88), (891, 0.80), (891.8, 0.60), (892.4, 0.80), (893, 0.40),
    (893.7, 0.55), (894.4, 0.15), (895.1, 0.50), (895.8, 0.10), (896.5, 0.60), (897.2, 0.20),
    (897.9, 0.45), (898.6, 0.05), (899.3, 0.55), (900, 0.10), (900.7, 0.65), (901.4, 0.15),
    (902.1, 0.40), (902.8, 0.05), (903.5, 0.50), (904.2, 0.10), (904.9, 0.70), (905.6, 0.15),
    (906.3, 0.45), (907, 0.05), (907.7, 0.55), (908.4, 0.10), (909.1, 0.35), (909.8, 0.02),
    (910.5, 0.50), (911.2, 0.10), (911.9, 0.40), (912.6, 0.00), (913.3, 0.45), (914, 0.05),
    (914.7, 0.30), (915.4, 0.00), (916.1, 0.40), (916.8, 0.05), (917.5, 0.25), (918.2, 0.00),
    (918.9, 0.35), (919.6, 0.05), (920.3, 0.20), (921, 0.45), (921.7, 0.05), (922.5, 0.25),
    (923.3, 0.00), (924, 0.15), (925, 0.02), (926, 0.12), (927, 0.00), (928, 0.08), (929, 0.01),
    (930, 0.05), (932, 0.00), (934, 0.04), (936, 0.00), (938, 0.03), (940, 0.01), (942, 0.05),
    (944, 0.00), (946, 0.06), (948, 0.02), (950, 0.08), (952, 0.03), (954, 0.10), (956, 0.04),
    (958, 0.14), (960, 0.06), (962, 0.18), (964, 0.08), (966, 0.22), (968, 0.10), (970, 0.25),
    (972, 0.12), (974, 0.28), (976, 0.15), (978, 0.30), (979, 0.20),
]

scaled_met = [
    (620, 3.26), (620.7, 3.15), (621.4, 3.22), (622.1, 3.05), (622.8, 3.12), (623.5, 2.98),
    (624.2, 3.05), (624.9, 2.90), (625.6, 2.98), (626.3, 2.70), (627, 2.90), (627.7, 1.35),
    (628.4, 2.80), (629.1, 2.50), (629.8, 2.75), (630.5, 1.50), (631.2, 2.75), (631.9, 2.40),
    (632.6, 2.72), (633.3, 2.00), (634, 2.70), (634.7, 2.30), (635.4, 2.68), (636, 1.30),
    (636.7, 2.75), (637.4, 2.45), (638.1, 2.82), (638.8, 2.20), (639.5, 2.80), (640.2, 2.50),
    (640.9, 2.88), (641.6, 2.10), (642.3, 2.85), (643, 2.55), (643.7, 2.90), (644.4, 2.30),
    (645.1, 2.78), (645.8, 1.90), (646.5, 2.65), (647.2, 1.50), (647.9, 2.50), (648.5, 0.65),
    (649.2, 2.40), (650, 0.70), (650.7, 2.30), (651.4, 1.30), (652.1, 2.50), (652.9, 1.60),
    (653.6, 2.45), (654.3, 0.90), (655, 2.35), (655.7, 1.70), (656.4, 2.40), (657.1, 0.54),
    (657.8, 2.30), (658.6, 2.60), (659.3, 2.75), (660, 2.68), (661, 2.74), (662, 2.70),
    (663, 2.72), (664, 2.40), (665, 2.70), (666, 2.66), (667, 2.68), (668, 2.60), (669, 2.65),
    (670, 2.55), (671, 2.62), (672, 2.58), (673, 2.60), (674, 2.50), (675, 2.58), (676, 2.52),
    (677, 2.55), (678, 2.45), (679, 2.50), (680, 2.46), (681, 2.48), (682, 2.40), (683, 2.42),
    (684, 2.35), (685, 2.30), (686, 2.00), (686.7, 0.60),
    (687.4, 2.00), (688.1, 0.50), (688.8, 2.05), (689.5, 1.10), (690.2, 1.90), (690.9, 0.30),
    (691.6, 2.00), (692.3, 1.20), (693, 1.80), (693.7, 0.43), (694.4, 1.95), (695.1, 1.30),
    (695.8, 1.75), (696.5, 0.50), (697.2, 1.90), (697.9, 1.00), (698.6, 2.00), (699.3, 0.35),
    (700, 1.85), (700.7, 1.10), (701.4, 1.90), (702.1, 0.60), (702.8, 1.70), (703.5, 0.90),
    (704.2, 1.85), (704.9, 0.30), (705.6, 1.75), (706.3, 1.00), (707, 1.80), (707.7, 0.50),
    (708.4, 1.90), (709.1, 1.10), (709.9, 1.95), (710.6, 0.70), (711.3, 1.85), (712, 1.00),
    (712.7, 1.70), (713.4, 0.40), (714.1, 1.65), (714.8, 0.80), (715.5, 1.55), (716.2, 0.20),
    (716.9, 1.50), (717.4, 0.02), (718.1, 1.40), (718.8, 0.30), (719.5, 1.30), (720.2, 0.00),
    (721, 1.35), (721.7, 0.10), (722.4, 1.45), (723.1, 0.50), (723.8, 1.25), (724.5, 0.05),
    (725.2, 1.40), (726, 0.30), (726.7, 1.35), (727.4, 0.10), (728.1, 1.50), (728.8, 0.50),
    (729.5, 1.40), (730.2, 0.15), (730.9, 1.55), (731.6, 0.40), (732.3, 1.45), (733, 0.10),
    (733.7, 1.60), (734.4, 0.70), (735.1, 1.65), (735.8, 0.30), (736.5, 1.55), (737.2, 0.80),
    (737.9, 1.70), (738.6, 0.50), (739.3, 1.72), (740, 1.00), (740.7, 1.70), (741.4, 0.70),
    (742.1, 1.76), (742.8, 1.20), (743.5, 1.78), (744.3, 1.75), (745, 1.82), (745.8, 1.72),
    (746.5, 1.80), (747.3, 1.70), (748, 1.78), (749, 1.72), (750, 1.77), (751, 1.70),
    (752, 1.76), (753, 1.68), (754, 1.74), (755, 1.67), (756, 1.72), (757, 1.66), (758, 1.68),
    (759, 1.62), (759.6, 1.20), (760.2, 0.50), (761, 0.10), (762, 0.00), (763, 0.05),
    (764, 0.00), (765, 0.02), (766, 0.00), (767, 0.80), (767.6, 1.45), (768.3, 1.58),
    (769, 1.65), (770, 1.55), (771, 1.63), (772, 1.52), (773, 1.59), (774, 1.50), (775, 1.57),
    (776, 1.48), (777, 1.55), (778, 1.46), (779, 1.52), (780, 1.44), (781, 1.48), (782, 1.42),
    (783, 1.46), (784, 1.40), (785, 1.42), (786, 1.36), (786.8, 1.22), (787.5, 0.50),
    (788.2, 1.28), (788.9, 0.60), (789.6, 1.25), (790.3, 0.25), (791, 1.22), (791.7, 0.70),
    (792.4, 1.26), (793.1, 0.40), (793.8, 1.20), (794.5, 0.15), (795.2, 1.22), (795.9, 0.60),
    (796.6, 1.17), (797.3, 0.30), (798, 1.20), (798.7, 0.70), (799.4, 1.14), (800.1, 0.10),
    (800.8, 1.12), (801.5, 0.50), (802.2, 1.16), (802.9, 0.30), (803.6, 1.10), (804.3, 0.60),
    (805, 1.12), (805.7, 0.15), (806.4, 1.07), (807.1, 0.50), (807.8, 1.04), (808.5, 0.20),
    (809.2, 1.02), (809.9, 0.45), (810.6, 1.04), (811.3, 0.05), (812, 1.00), (812.7, 0.40),
    (813.4, 1.02), (814.1, 0.10), (814.8, 0.97), (815.5, 0.50), (816.2, 1.00), (816.9, 0.02),
    (817.6, 0.96), (818.3, 0.30), (819, 0.98), (819.7, 0.08), (820.2, 0.92), (820.9, 0.40),
    (821.6, 0.96), (822.3, 0.00), (823, 0.90), (823.7, 0.25), (824.4, 0.94), (825.1, 0.02),
    (825.8, 0.88), (826.5, 0.30), (827.2, 0.92), (827.9, 0.05), (828.6, 0.97), (829.3, 0.25),
    (830, 0.92), (830.7, 0.07), (831.4, 0.87), (832.1, 0.40), (832.8, 0.94), (833.5, 0.10),
    (834.2, 0.90), (835, 0.25), (835.7, 0.96), (836.4, 0.15), (837.1, 0.98), (837.8, 0.30),
    (838.5, 0.94), (839.2, 0.10), (839.9, 0.92), (840.6, 0.40), (841.3, 0.96), (842, 0.15),
    (842.7, 0.92), (843.4, 0.35), (844.1, 0.95), (844.8, 0.45), (845.5, 0.90), (846.2, 0.20),
    (846.9, 0.92), (847.6, 0.45), (848.3, 0.96), (849, 0.25), (849.7, 0.92), (850.4, 0.50),
    (851.1, 0.96), (851.8, 0.30), (852.5, 0.90), (853.2, 0.50), (853.9, 0.94), (854.6, 0.10),
    (855.3, 0.90), (856, 0.60), (856.8, 0.97), (857.5, 0.92), (858.3, 0.98), (859, 0.85),
    (860, 0.99), (861, 0.94), (862, 0.98), (863, 0.90), (864, 0.97), (865, 0.88), (866, 0.96),
    (867, 0.86), (867.6, 0.35), (868.3, 0.94), (869, 0.92), (870, 0.95), (871, 0.87),
    (872, 0.93), (873, 0.84), (874, 0.92), (875, 0.85), (876, 0.91), (877, 0.82), (878, 0.89),
    (879, 0.80), (880, 0.87), (881, 0.84), (881.8, 0.30), (882.5, 0.86), (883.5, 0.78),
    (884.5, 0.84), (885.5, 0.75), (886.5, 0.82), (887.2, 0.30), (888, 0.82), (889, 0.76),
    (890, 0.80), (891, 0.70), (891.8, 0.35), (892.4, 0.72), (893, 0.30),
    (893.7, 0.50), (894.4, 0.10), (895.1, 0.45), (895.8, 0.05), (896.5, 0.55), (897.2, 0.15),
    (897.9, 0.40), (898.6, 0.02), (899.3, 0.50), (900, 0.05), (900.7, 0.63), (901.4, 0.10),
    (902.1, 0.35), (902.8, 0.02), (903.5, 0.45), (904.2, 0.05), (904.9, 0.62), (905.6, 0.10),
    (906.3, 0.40), (907, 0.02), (907.7, 0.50), (908.4, 0.05), (909.1, 0.30), (909.8, 0.00),
    (910.5, 0.45), (911.2, 0.05), (911.9, 0.35), (912.6, 0.00), (913.3, 0.40), (914, 0.02),
    (914.7, 0.25), (915.4, 0.00), (916.1, 0.35), (916.8, 0.02), (917.5, 0.20), (918.2, 0.00),
    (918.9, 0.30), (919.6, 0.02), (920.3, 0.15), (921, 0.40), (921.7, 0.02), (922.5, 0.20),
    (923.3, 0.00), (924, 0.12), (925, 0.00), (926, 0.10), (927, 0.00), (928, 0.06), (929, 0.00),
    (930, 0.04), (932, 0.00), (934, 0.03), (936, 0.00), (938, 0.02), (940, 0.00), (942, 0.04),
    (944, 0.00), (946, 0.05), (948, 0.01), (950, 0.07), (952, 0.02), (954, 0.09), (956, 0.03),
    (958, 0.12), (960, 0.05), (962, 0.16), (964, 0.07), (966, 0.20), (968, 0.09), (970, 0.23),
    (972, 0.10), (974, 0.26), (976, 0.13), (978, 0.28), (979, 0.18),
]

series = [
    (measured, 'meridian$_{\\mathregular{measured}}$', '#0072BD', 5.8),
    (nomads, 'meridian$_{\\mathregular{NOMADS}}$', '#D95319', 0.8),
    (expert, 'meridian$_{\\mathregular{ExPERT}}$', '#EDB120', 0.8),
    (scaled, 'meridian$_{\\mathregular{Scaled}}$', '#7E2F8E', 0.8),
    (scaled_met, 'meridian$_{\\mathregular{Scaled{+}MET}}$', '#77AC30', 0.8),
]

fig = plt.figure(figsize=(10.57, 9.01), dpi=100)
ax = fig.add_axes([0.0577, 0.0666, 0.9403, 0.899])

for data, label, color, lw in series:
    wl, val = zip(*data)
    ax.plot(wl, np.array(val) * 1e-3, color=color, lw=lw, label=label,
            solid_joinstyle='round')

ax.set_xlim(620, 979)
ax.set_ylim(0, 7.23e-3)
ax.xaxis.set_major_locator(MultipleLocator(50))
ax.yaxis.set_major_locator(MultipleLocator(1e-3))
fmt = ScalarFormatter(useMathText=True)
fmt.set_powerlimits((-3, -3))
ax.yaxis.set_major_formatter(fmt)

axis_col = '#262626'
for s in ax.spines.values():
    s.set_color(axis_col)
    s.set_linewidth(0.8)
ax.tick_params(direction='in', length=7, width=0.8, top=True, right=True,
               colors=axis_col, labelsize=12)
ax.yaxis.get_offset_text().set_fontsize(12)
ax.yaxis.get_offset_text().set_color(axis_col)

ax.set_xlabel('wavelength [nm]', fontsize=13, color=axis_col)
ax.set_ylabel('L [W*cm$^{-2}$*$\\mu$m$^{-1}$*sr$^{-1}$]', fontsize=13, color=axis_col)

leg = ax.legend(loc='upper right', bbox_to_anchor=(0.978, 0.973), borderaxespad=0,
                fontsize=11.5, fancybox=False, framealpha=1, edgecolor=axis_col,
                handlelength=2.1, handletextpad=0.5, labelspacing=0.38,
                borderpad=0.35)
leg.get_frame().set_linewidth(0.8)

fig.savefig('out.png', dpi=100)
